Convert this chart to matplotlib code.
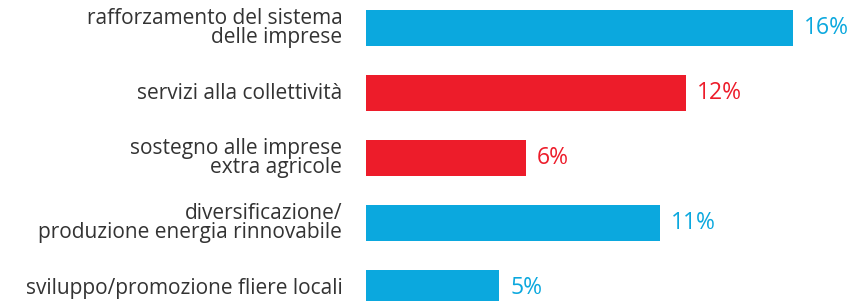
import matplotlib.pyplot as plt

# dati
categorie = ["rafforzamento del sistema\ndelle imprese",
             "servizi alla collettività",
             "sostegno alle imprese\nextra agricole",
             "diversificazione/\nproduzione energia rinnovabile",
             "sviluppo/promozione fliere locali"]
valori = [16, 12, 6, 11, 5]
etichette = ["16%", "12%", "6%", "11%", "5%"]
colori = ["#0BA8DE", "#ED1C2A", "#ED1C2A", "#0BA8DE", "#0BA8DE"]

plt.rcParams['font.family'] = ['Open Sans', 'DejaVu Sans']

fig = plt.figure(figsize=(8.56, 3.01), dpi=100)
ax = fig.add_axes([0, 0, 1, 1])

pos = list(range(len(valori)))
ax.barh(pos, valori, height=0.56, color=colori)

# assi
ax.set_xlim(-13.71, 18.36)
ax.set_ylim(4.2, -0.431)
ax.axis('off')

# etichette
for i in pos:
    ax.annotate(categorie[i], xy=(0, i), xytext=(-17, 0), textcoords='offset points',
                ha='right', va='center', fontsize=15, color='#333333', linespacing=0.9)
    ax.annotate(etichette[i], xy=(valori[i], i), xytext=(8, 0), textcoords='offset points',
                ha='left', va='center', fontsize=16.5, color=colori[i])

fig.savefig("out.png", dpi=100)
